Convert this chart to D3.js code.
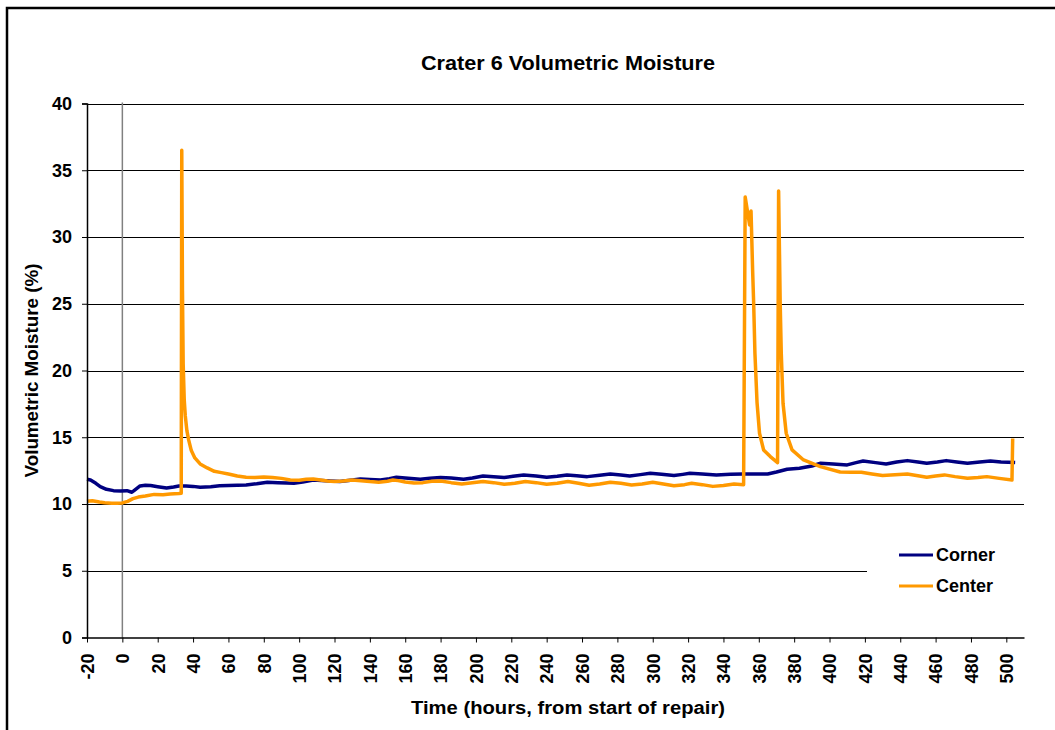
<!DOCTYPE html>
<html>
<head>
    <meta charset="UTF-8" />
    <style>
        body { margin: 0; background: #fff; }
        text { font-family: "Liberation Sans", Arial, sans-serif; font-weight: bold; fill: #000; }
        .grid line { stroke: #000; stroke-width: 1; shape-rendering: crispEdges; }
    </style>
    <script src="https://d3js.org/d3.v7.min.js"></script>
</head>
<body>
    <svg width="1055" height="730"></svg>
    <script>
        // hours from start of repair
        var cornerHours = [-20, -18, -15, -12.5, -9, -5, -1, 2.6, 5.4, 7.5, 10, 13, 16, 20, 25, 29, 32, 36, 40, 44,
            50, 55, 60, 65, 70, 76, 82, 88, 93, 97, 102, 108, 115, 123, 129, 134.6, 140, 146, 151, 155,
            160, 168.5, 174, 180, 186, 193, 198, 204, 210, 216, 221, 227, 234, 240, 246, 251.5, 257, 263, 270, 276,
            282, 287, 293, 298.6, 305, 312, 317, 321, 328, 336, 344, 351, 358, 365, 370, 376, 383, 390, 395, 402,
            410, 415, 419, 426, 432, 438, 444, 450, 455, 461, 466, 472, 478, 485, 491, 497, 505];
        var corner = [11.85, 11.8, 11.55, 11.3, 11.1, 11.0, 10.98, 11.0, 10.88, 11.1, 11.35, 11.4, 11.38, 11.3, 11.2, 11.28, 11.35, 11.35, 11.32, 11.26,
            11.3, 11.36, 11.38, 11.4, 11.43, 11.52, 11.63, 11.6, 11.58, 11.56, 11.65, 11.8, 11.75, 11.68, 11.78, 11.88, 11.84, 11.8, 11.9, 12.0,
            11.95, 11.86, 11.92, 11.98, 11.95, 11.86, 11.95, 12.1, 12.05, 11.98, 12.08, 12.18, 12.1, 12.0, 12.08, 12.18, 12.12, 12.05, 12.15, 12.25,
            12.18, 12.1, 12.2, 12.3, 12.22, 12.13, 12.22, 12.3, 12.25, 12.18, 12.22, 12.25, 12.25, 12.25, 12.4, 12.6, 12.68, 12.85, 13.05, 13.0,
            12.93, 13.1, 13.22, 13.1, 13.0, 13.15, 13.25, 13.15, 13.05, 13.15, 13.25, 13.15, 13.05, 13.15, 13.22, 13.15, 13.1];

        var centerHours = [-20, -17, -13, -10, -6, -3, 0, 3, 6, 9, 13, 18, 23, 27, 32, 33.3, 33.6, 34, 34.4, 35,
            35.6, 36.5, 37.5, 39, 41, 44, 48, 52, 56, 60, 65, 70, 75, 80, 85, 90, 95, 100, 104, 108,
            112, 116, 120, 125, 130, 135, 140, 145, 150, 153, 156, 160, 165, 170, 175, 180, 186, 192, 198, 204,
            210, 216, 222, 228, 234, 240, 246, 252, 258, 264, 270, 276, 282, 288, 294, 300, 306, 312, 318, 322,
            328, 334, 340, 346, 351.4, 352.3, 354.8, 355.6, 356.5, 357.1, 357.8, 359, 360.4, 362.7, 366.5, 370.6, 371.2, 372.1, 372.7, 373.7,
            375.5, 378.8, 385.3, 394.8, 406, 412, 418, 424, 430, 437, 444, 450, 455, 460, 465, 471, 478, 484, 489, 496,
            503.2, 503.6];
        var center = [10.2, 10.25, 10.15, 10.1, 10.05, 10.05, 10.08, 10.2, 10.4, 10.52, 10.6, 10.72, 10.7, 10.75, 10.78, 10.8, 36.5, 26, 20.5, 17.8,
            16.6, 15.5, 14.8, 14.0, 13.45, 13.0, 12.7, 12.45, 12.35, 12.25, 12.1, 12.0, 11.98, 12.02, 11.98, 11.92, 11.8, 11.78, 11.85, 11.88,
            11.8, 11.72, 11.68, 11.72, 11.8, 11.75, 11.68, 11.63, 11.7, 11.8, 11.75, 11.65, 11.58, 11.6, 11.7, 11.72, 11.6, 11.5, 11.6, 11.68,
            11.6, 11.48, 11.55, 11.68, 11.6, 11.48, 11.55, 11.68, 11.55, 11.4, 11.5, 11.63, 11.55, 11.43, 11.5, 11.63, 11.5, 11.36, 11.45, 11.56,
            11.45, 11.32, 11.38, 11.5, 11.45, 33.0, 30.9, 31.95, 27.5, 25.0, 21.3, 17.6, 15.3, 14.05, 13.55, 13.1, 33.45, 25.0, 21.3, 17.55,
            15.3, 14.05, 13.3, 12.8, 12.4, 12.38, 12.38, 12.25, 12.13, 12.2, 12.25, 12.12, 12.0, 12.1, 12.18, 12.05, 11.93, 11.98, 12.05, 11.92,
            11.8, 14.9];

        var xTicks = d3.range(-20, 501, 20);
        var yTicks = [0, 5, 10, 15, 20, 25, 30, 35, 40];
        var seriesNames = ["Corner", "Center"];
        var colors = ["#000080", "#FF9900"];

        var svg = d3.select("svg");

        // outer frame
        svg.append("rect")
           .attr("x", 7).attr("y", 8)
           .attr("width", 1060).attr("height", 740)
           .attr("fill", "none").attr("stroke", "#000").attr("stroke-width", 2.5);

        var x = d3.scaleLinear().domain([-20, 510]).range([87, 1024]);
        var y = d3.scaleLinear().domain([0, 40]).range([637.5, 103.5]);

        // horizontal gridlines
        svg.append("g").attr("class", "grid")
           .selectAll("line").data(yTicks.slice(1)).enter().append("line")
           .attr("x1", x(-20)).attr("x2", x(510))
           .attr("y1", function(d) { return Math.round(y(d)) + 0.5; })
           .attr("y2", function(d) { return Math.round(y(d)) + 0.5; });

        // line at start of repair
        svg.append("line")
           .attr("x1", x(0)).attr("x2", x(0))
           .attr("y1", y(40) - 1).attr("y2", y(0))
           .attr("stroke", "#808080").attr("stroke-width", 1.5);

        var line = d3.line()
                     .x(function(d) { return x(d[0]); })
                     .y(function(d) { return y(d[1]); });

        var cornerPts = d3.zip(cornerHours, corner);
        var centerPts = d3.zip(centerHours, center);

        svg.append("path").datum(cornerPts)
           .attr("d", line).attr("fill", "none")
           .attr("stroke", colors[0]).attr("stroke-width", 3.5).attr("stroke-linejoin", "round");

        svg.append("path").datum(centerPts)
           .attr("d", line).attr("fill", "none")
           .attr("stroke", colors[1]).attr("stroke-width", 3.5).attr("stroke-linejoin", "round");

        // axes
        var yAxis = d3.axisLeft(y).tickValues(yTicks).tickSize(5).tickPadding(10);
        var yg = svg.append("g").attr("transform", "translate(" + x(-20) + ",0)").call(yAxis);
        yg.selectAll("text").style("font-size", "18px");

        var xAxis = d3.axisBottom(x).tickValues(xTicks).tickSize(5).tickSizeOuter(0)
                      .tickFormat(function(d) { return String(d); });
        var xg = svg.append("g").attr("transform", "translate(0," + y(0) + ")").call(xAxis);
        xg.selectAll("text")
          .style("font-size", "18px")
          .attr("text-anchor", "end")
          .attr("dy", "0.35em")
          .attr("transform", "translate(0,16) rotate(-90)")
          .attr("x", 0).attr("y", 0);
        svg.selectAll(".domain").attr("stroke", "#000").attr("stroke-width", 1.5);
        svg.selectAll(".tick line").attr("stroke", "#000");
        svg.selectAll(".tick text").attr("fill", "#000");

        // legend
        var legend = svg.append("g");
        legend.append("rect")
              .attr("x", 867).attr("y", 528).attr("width", 160).attr("height", 82)
              .attr("fill", "#fff");
        seriesNames.forEach(function(name, i) {
            var ly = 555 + i * 31;
            legend.append("line")
                  .attr("x1", 899).attr("x2", 933)
                  .attr("y1", ly).attr("y2", ly)
                  .attr("stroke", colors[i]).attr("stroke-width", 3);
            legend.append("text")
                  .attr("x", 936).attr("y", ly + 6)
                  .style("font-size", "18px")
                  .text(name);
        });

        // titles
        svg.append("text")
           .attr("x", 568).attr("y", 70)
           .attr("text-anchor", "middle")
           .attr("textLength", 294).attr("lengthAdjust", "spacingAndGlyphs")
           .style("font-size", "20px")
           .text("Crater 6 Volumetric Moisture");

        svg.append("text")
           .attr("x", 568).attr("y", 714)
           .attr("text-anchor", "middle")
           .attr("textLength", 314).attr("lengthAdjust", "spacingAndGlyphs")
           .style("font-size", "18px")
           .text("Time (hours, from start of repair)");

        svg.append("text")
           .attr("transform", "translate(38," + y(20) + ") rotate(-90)")
           .attr("text-anchor", "middle")
           .attr("textLength", 214).attr("lengthAdjust", "spacingAndGlyphs")
           .style("font-size", "18px")
           .text("Volumetric Moisture (%)");
    </script>
</body>
</html>
